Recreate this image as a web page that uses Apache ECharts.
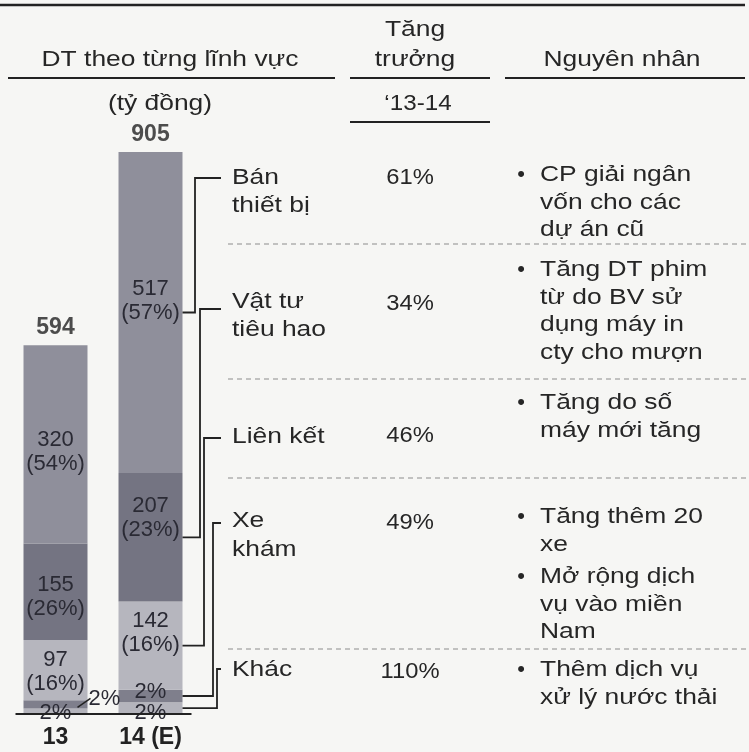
<!DOCTYPE html>
<html><head><meta charset="utf-8">
<script src="https://cdn.jsdelivr.net/npm/echarts@6/dist/echarts.min.js"></script>
<style>html,body{margin:0;padding:0;background:#f6f6f4}#c{width:749px;height:752px}</style>
</head><body><div id="c"></div>
<script>
// ---- data ----
const years = ['13', '14 (E)'];
const sectors = ['Khác', 'Xe khám', 'Liên kết', 'Vật tư tiêu hao', 'Bán thiết bị']; // bottom -> top
const values13 = [9, 13, 97, 155, 320];
const values14 = [19, 20, 142, 207, 517];
const shares13 = ['2%', '2%', '16%', '26%', '54%'];
const shares14 = ['2%', '2%', '16%', '23%', '57%'];
const totals = [594, 905];
const growth = ['110%', '49%', '46%', '34%', '61%'];
const sectorLabelLines = [['Khác'], ['Xe', 'khám'], ['Liên kết'], ['Vật tư', 'tiêu hao'], ['Bán', 'thiết bị']];
const reasons = [
  [['Thêm dịch vụ', 'xử lý nước thải']],
  [['Tăng thêm 20', 'xe'], ['Mở rộng dịch', 'vụ vào miền', 'Nam']],
  [['Tăng do số', 'máy mới tăng']],
  [['Tăng DT phim', 'từ do BV sử', 'dụng máy in', 'cty cho mượn']],
  [['CP giải ngân', 'vốn cho các', 'dự án cũ']]
];
const headers = { left: 'DT theo từng lĩnh vực', unit: '(tỷ đồng)', growth: ['Tăng', 'trưởng'], period: '‘13-14', reason: 'Nguyên nhân' };

// ---- styles ----
const colors = ['#b4b4bc', '#7f7f8c', '#b6b6be', '#747482', '#8f8f9b'];
const labelOffsets = [[[0, 2], [0, 5]], [null, [0, -4]], [[0, 2], [0, -13]], [[0, 5], [0, -19]], [[0, 7], [0, -12]]];
const FONT = '"Liberation Sans", Arial, sans-serif';
const TXT = '#262626';
const SX = 1.2;
const rowLabelY = [[670], [521, 550], [437], [302, 330], [178, 206]];
const rowBracketY = [669, 523, 438, 309, 178];
const rowBracketX = [217, 213, 204, 200, 195];
const rowGrowthY = [672, 523, 436, 304, 178];
const rowReasonY = [[670], [517, 577], [403], [270], [175]];
const dashY = [244, 379, 478, 649];

const chart = echarts.init(document.getElementById('c'));

const series = sectors.map((name, si) => ({
  name, type: 'bar', stack: 'total', barWidth: 64,
  itemStyle: { color: colors[si] },
  label: {
    show: true, position: 'inside', color: '#2a2a34',
    fontFamily: FONT, fontSize: 22, lineHeight: 24
  },
  data: [values13[si], values14[si]].map((v, bi) => {
    const share = bi === 0 ? shares13[si] : shares14[si];
    const txt = si >= 2 ? v + '\n(' + share + ')' : share;
    const item = { value: v, label: { formatter: txt } };
    const off = labelOffsets[si][bi];
    if (off) item.label.offset = off;
    else { item.label.position = 'right'; item.label.distance = 3; item.label.offset = [-2, -5]; }
    return item;
  })
}));

series.push({
  type: 'scatter', data: totals, symbolSize: 1, itemStyle: { color: 'rgba(0,0,0,0)' },
  label: { show: true, position: 'top', distance: 5, formatter: p => String(p.value),
    fontFamily: FONT, fontWeight: 'bold', fontSize: 23, color: '#222' },
  silent: true, z: 5
});

chart.setOption({
  backgroundColor: '#f6f6f4',
  animation: false,
  grid: { left: 8, top: 93, width: 190, height: 621, outerBoundsMode: 'none', containLabel: false },
  xAxis: {
    type: 'category', data: years,
    axisLine: { show: false }, axisTick: { show: false },
    axisLabel: { margin: 12, fontFamily: FONT, fontWeight: 'bold', fontSize: 23, color: '#222' }
  },
  yAxis: { type: 'value', min: 0, max: 1000, show: false, splitLine: { show: false } },
  series
});

// ---- annotations (table, connectors) ----
function T(text, x, y, o) {
  o = o || {};
  return { type: 'text', x, y, scaleX: o.sx || SX, z: 10,
    style: { text, x: 0, y: 0, fill: o.fill || TXT, font: (o.weight || 'normal') + ' ' + (o.size || 22) + 'px ' + FONT,
      align: o.align || 'left', verticalAlign: 'middle', textAlign: o.align || 'left', textVerticalAlign: 'middle' } };
}
function L(x1, y1, x2, y2, o) {
  o = o || {};
  return { type: 'line', z: 9, shape: { x1, y1, x2, y2 },
    style: { stroke: o.stroke || '#222', lineWidth: o.w || 2, lineDash: o.dash || null } };
}
const g = [];
g.push(L(0, 5, 745, 5, { w: 2.5 }));
g.push(T(headers.left, 170, 60, { align: 'center' }));
g.push(T(headers.growth[0], 415, 30, { align: 'center' }));
g.push(T(headers.growth[1], 415, 60, { align: 'center' }));
g.push(T(headers.reason, 622, 60, { align: 'center' }));
g.push(L(8, 78, 335, 78));
g.push(L(350, 78, 490, 78));
g.push(L(505, 78, 745, 78));
g.push(T(headers.unit, 160, 104, { align: 'center' }));
g.push(T(headers.period, 418, 104, { align: 'center', sx: 1.1 }));
g.push(L(350, 122, 490, 122));
dashY.forEach(y => g.push(L(228, y, 748, y, { stroke: '#8c8c8c', w: 1.2, dash: [5, 4] })));

const half = 32;
const c0 = chart.convertToPixel({ xAxisIndex: 0 }, 0);
const c1 = chart.convertToPixel({ xAxisIndex: 0 }, 1);
const y0 = chart.convertToPixel({ yAxisIndex: 0 }, 0);
g.push(L(c0 - half - 8, y0, c1 + half + 9, y0, { w: 2 }));

let base14 = 0;
sectors.forEach((name, si) => {
  const segY = chart.convertToPixel({ yAxisIndex: 0 }, base14 + values14[si] / 2);
  base14 += values14[si];
  const bx = rowBracketX[si], by = rowBracketY[si];
  g.push({ type: 'polyline', z: 9, shape: { points: [[221, by], [bx, by], [bx, segY], [c1 + half, segY]] },
    style: { stroke: '#222', lineWidth: 1.8, fill: null } });
  sectorLabelLines[si].forEach((t, k) => g.push(T(t, 232, rowLabelY[si][k])));
  g.push(T(growth[si], 410, rowGrowthY[si], { align: 'center', sx: 1.08 }));
  reasons[si].forEach((bullet, bi) => {
    const y = rowReasonY[si][bi];
    g.push(T('•', 521, y, { align: 'center', sx: 1 }));
    bullet.forEach((t, k) => g.push(T(t, 540, y + k * 27.5)));
  });
});

const seg13 = chart.convertToPixel({ yAxisIndex: 0 }, values13[0] + values13[1] / 2);
g.push(L(c0 + half - 10, seg13 + 3, c0 + half + 3, seg13 - 6, { w: 1.5 }));

chart.setOption({ graphic: { elements: g } });
</script></body></html>
